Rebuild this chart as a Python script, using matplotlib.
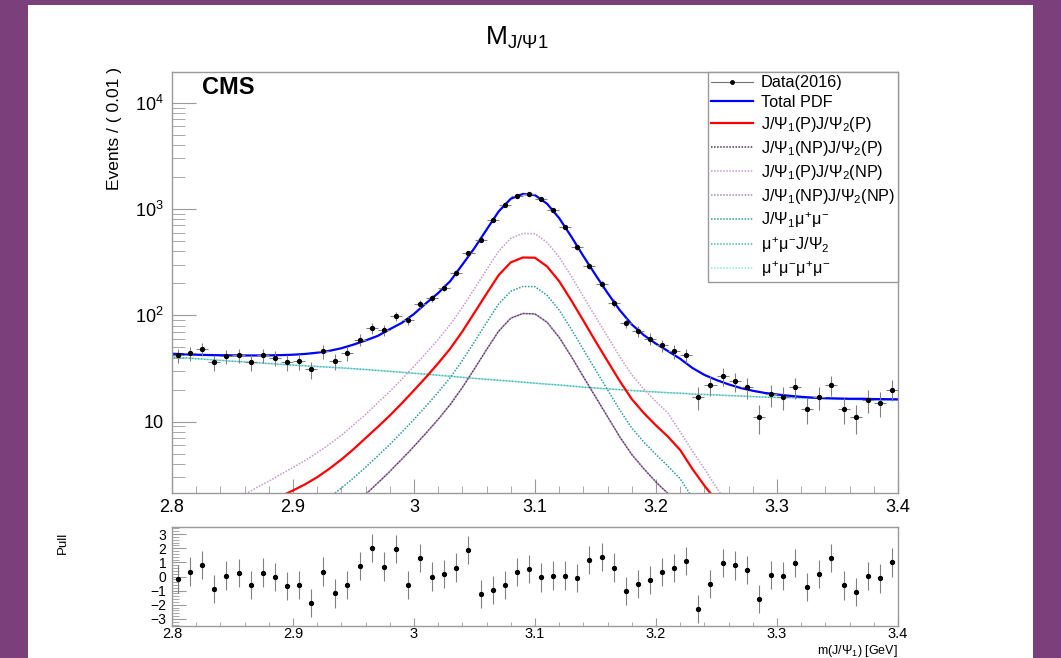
import numpy as np
import matplotlib
matplotlib.use("Agg")
import matplotlib.pyplot as plt
from matplotlib.lines import Line2D
from matplotlib.patches import Rectangle
from matplotlib.ticker import FixedLocator, FixedFormatter, LogLocator, NullFormatter, MultipleLocator

plt.rcParams['font.family'] = ['Liberation Sans', 'DejaVu Sans']
plt.rcParams['mathtext.fontset'] = 'custom'
plt.rcParams['mathtext.rm'] = 'Liberation Sans'
plt.rcParams['mathtext.it'] = 'Liberation Sans'
plt.rcParams['mathtext.sf'] = 'Liberation Sans'

# binned data, 60 bins of 0.01 GeV from 2.8 to 3.4
m_lo, m_hi, n_bins = 2.8, 3.4, 60
counts = [42, 44, 48, 36, 41, 42, 36, 42, 40, 36,
          37, 31, 46, 37, 44, 59, 76, 72, 98, 90,
          129, 144, 182, 251, 382, 510, 788, 1083, 1326, 1387,
          1236, 973, 681, 436, 292, 195, 131, 85, 71, 60,
          52, 46, 42, 17, 22, 27, 24, 21, 11, 18,
          17, 21, 13, 17, 22, 13, 11, 16, 15, 20]
pulls = [-0.18, 0.35, 0.82, -0.87, 0.07, 0.24, -0.61, 0.28, -0.04, -0.68,
         -0.61, -1.87, 0.35, -1.2, -0.58, 0.75, 2.0, 0.7, 1.95, -0.58,
         1.3, 0.0, 0.19, 0.63, 1.88, -1.24, -0.96, -0.58, 0.31, 0.54,
         -0.07, 0.07, 0.07, -0.11, 1.15, 1.37, 0.63, -1.0, -0.54, -0.23,
         0.31, 0.59, 1.1, -2.3, -0.51, 0.94, 0.78, 0.45, -1.59, 0.12,
         0.05, 0.94, -0.73, 0.19, 1.3, -0.63, -1.1, 0.05, -0.14, 1.0]

# fit curves read at 2.80, 2.81, ..., 3.40
total_pdf = [43.5, 43.0, 42.6, 42.3, 42.1, 42.0, 41.9, 41.9, 42.0, 42.2,
             42.6, 43.3, 44.5, 46.3, 49.0, 53, 58, 64, 74, 85,
             103, 130, 162, 210, 300, 430, 640, 950, 1250, 1385,
             1350, 1120, 820, 550, 360, 240, 162, 112, 82, 65,
             54, 46, 39, 32, 27.5, 24.6, 22.4, 20.7, 19.5, 18.6,
             18.0, 17.5, 17.1, 16.8, 16.6, 16.5, 16.4, 16.4, 16.3, 16.25, 16.2]
p_p = [0.79, 0.84, 0.92, 1.02, 1.15, 1.31, 1.44, 1.6, 1.78, 1.99,
       2.25, 2.57, 3.0, 3.6, 4.4, 5.5, 7.0, 8.9, 11.4, 14.9,
       19.7, 26.2, 35.4, 48.7, 70.5, 106, 160, 239, 315, 350,
       348, 288, 209, 138, 89, 57, 37, 24.1, 16.3, 12.0,
       9.2, 7.2, 5.4, 3.6, 2.5, 1.8, 1.26, 0.86, 0.6, 0.42,
       0.29, 0.18, 0.1, 0.08, 0.05, 0.04, 0.03, 0.03, 0.03, 0.03, 0.03]
np_p = [0.23, 0.25, 0.27, 0.3, 0.34, 0.39, 0.43, 0.48, 0.53, 0.59,
        0.67, 0.76, 0.9, 1.08, 1.32, 1.65, 2.07, 2.64, 3.4, 4.44,
        5.85, 7.8, 10.5, 14.5, 21.0, 31.4, 47.6, 71, 94, 104,
        103, 86, 62, 41, 26.4, 17.1, 11.1, 7.2, 4.9, 3.6,
        2.7, 2.1, 1.6, 1.08, 0.74, 0.53, 0.37, 0.26, 0.18, 0.12,
        0.09, 0.05, 0.03, 0.02, 0.02, 0.01, 0.01, 0.01, 0.01, 0.01, 0.01]
p_np = [0.75, 0.85, 0.97, 1.1, 1.5, 1.8, 2.05, 2.4, 2.75, 3.2,
        3.7, 4.3, 5.1, 6.1, 7.45, 9.3, 11.7, 15.0, 19.2, 25.1,
        33.1, 44.1, 59.5, 82, 119, 178, 269, 402, 530, 590,
        585, 484, 352, 233, 150, 97, 63, 41, 27.5, 20.2,
        15.4, 12.0, 8.0, 5.3, 3.6, 2.4, 1.6, 1.1, 0.8, 0.6,
        0.5, 0.3, 0.2, 0.1, 0.1, 0.1, 0.1, 0.1, 0.1, 0.1, 0.1]
np_np = np_p
jpsi_mumu = [0.42, 0.45, 0.49, 0.55, 0.62, 0.7, 0.77, 0.85, 0.95, 1.06,
             1.2, 1.37, 1.61, 1.93, 2.37, 2.95, 3.72, 4.75, 6.1, 7.97,
             10.5, 14.0, 18.9, 26.0, 37.7, 56.4, 85.4, 128, 168, 187,
             186, 154, 112, 74, 47.5, 30.7, 19.9, 12.9, 8.7, 6.4,
             4.9, 3.8, 2.9, 1.93, 1.33, 0.95, 0.67, 0.46, 0.32, 0.22,
             0.15, 0.1, 0.06, 0.04, 0.03, 0.02, 0.01, 0.01, 0.01, 0.01, 0.01]
mumu_jpsi = [40.5, 39.8, 39.1, 38.4, 37.7, 37.0, 36.4, 35.8, 35.2, 34.6,
             34.0, 33.5, 33.0, 32.5, 32.0, 31.5, 30.9, 30.3, 29.7, 29.1,
             28.5, 27.9, 27.3, 26.7, 26.1, 25.5, 25.0, 24.5, 24.0, 23.5,
             23.0, 22.5, 22.1, 21.6, 21.1, 20.7, 20.3, 20.0, 19.6, 19.3,
             19.0, 18.7, 18.5, 18.2, 18.0, 17.8, 17.6, 17.4, 17.2, 17.0,
             16.9, 16.8, 16.7, 16.6, 16.5, 16.3, 16.2, 16.1, 16.0, 16.0, 16.0]
mumu_mumu = mumu_jpsi

labels = ['Data(2016)', 'Total PDF',
          r'J/$\Psi_1$(P)J/$\Psi_2$(P)', r'J/$\Psi_1$(NP)J/$\Psi_2$(P)',
          r'J/$\Psi_1$(P)J/$\Psi_2$(NP)', r'J/$\Psi_1$(NP)J/$\Psi_2$(NP)',
          r'J/$\Psi_1\mu^{+}\mu^{-}$', r'$\mu^{+}\mu^{-}$J/$\Psi_2$',
          r'$\mu^{+}\mu^{-}\mu^{+}\mu^{-}$']

edges = np.linspace(m_lo, m_hi, n_bins + 1)
centers = 0.5 * (edges[1:] + edges[:-1])
grid = np.linspace(m_lo, m_hi, len(total_pdf))
counts = np.array(counts, dtype=float)

W, H = 1061, 658
fig = plt.figure(figsize=(W / 100, H / 100), dpi=100)
fig.patch.set_facecolor('#7b3f7b')
fig.patches.append(Rectangle((28 / W, 0), 1005 / W, 653 / H, transform=fig.transFigure,
                             facecolor='white', edgecolor='none', zorder=-10))

ax = fig.add_axes([172 / W, 1 - 493 / H, 726 / W, 421 / H])
axp = fig.add_axes([172 / W, 1 - 626 / H, 726 / W, 99 / H])

dot = (0, (1, 1))
c_np_p = '#553355'
c_p_np = '#c898c8'
c_np_np = '#a883c0'
c_jm = '#2f9a9a'
c_mj = '#45b5b5'
c_mm = '#8fe3e3'
ax.plot(grid, mumu_mumu, color=c_mm, ls=dot, lw=1.1)
ax.plot(grid, mumu_jpsi, color=c_mj, ls=(1, (1, 1)), lw=1.1)
ax.plot(grid, jpsi_mumu, color=c_jm, ls=dot, lw=1.1)
ax.plot(grid, np_np, color=c_np_np, ls=dot, lw=1.1)
ax.plot(grid, np_p, color=c_np_p, ls=(1, (1, 1)), lw=1.1)
ax.plot(grid, p_np, color=c_p_np, ls=dot, lw=1.1)
ax.plot(grid, p_p, color='red', lw=1.6)
ax.plot(grid, total_pdf, color='blue', lw=1.6)
ax.errorbar(centers, counts, xerr=0.005, yerr=np.sqrt(counts), fmt='o', ms=2.8,
            color='black', ecolor='#808080', elinewidth=0.8, capsize=0, zorder=5)

ax.set_yscale('log')
ax.set_xlim(m_lo, m_hi)
ax.set_ylim(2.13, 19450)
ax.yaxis.set_major_locator(FixedLocator([10, 100, 1000, 10000]))
ax.yaxis.set_major_formatter(FixedFormatter(['10', r'$10^{2}$', r'$10^{3}$', r'$10^{4}$']))
ax.yaxis.set_minor_locator(LogLocator(base=10, subs=range(2, 10)))
ax.yaxis.set_minor_formatter(NullFormatter())
ax.set_xticks([2.8, 2.9, 3.0, 3.1, 3.2, 3.3, 3.4])
ax.set_xticklabels(['2.8', '2.9', '3', '3.1', '3.2', '3.3', '3.4'])
ax.xaxis.set_minor_locator(MultipleLocator(0.02))

frame = '#9a9a9a'
for a in (ax, axp):
    for s in a.spines.values():
        s.set_color(frame)
        s.set_linewidth(1)
    a.tick_params(which='both', direction='in', color=frame, top=False, right=False)
ax.tick_params(axis='y', which='major', length=17, labelsize=13, pad=6)
ax.tick_params(axis='y', which='minor', length=9)
ax.tick_params(axis='x', which='major', length=10, labelsize=13, pad=4)
ax.tick_params(axis='x', which='minor', length=5)

ax.text(0.041, 0.962, 'CMS', transform=ax.transAxes, fontsize=17, fontweight='bold',
        ha='left', va='center')

handles = [Line2D([], [], color='#707070', lw=0.8, marker='o', ms=2.5, mfc='black', mec='black'),
           Line2D([], [], color='blue', lw=1.6),
           Line2D([], [], color='red', lw=1.6),
           Line2D([], [], color=c_np_p, ls=dot, lw=1.1),
           Line2D([], [], color=c_p_np, ls=dot, lw=1.1),
           Line2D([], [], color=c_np_np, ls=dot, lw=1.1),
           Line2D([], [], color=c_jm, ls=dot, lw=1.1),
           Line2D([], [], color=c_mj, ls=dot, lw=1.1),
           Line2D([], [], color=c_mm, ls=dot, lw=1.1)]
leg = ax.legend(handles, labels, loc='upper right', bbox_to_anchor=(1, 1), borderaxespad=0,
                fontsize=11.7, frameon=True, fancybox=False, edgecolor=frame, framealpha=1,
                handlelength=2.6, handletextpad=0.45, labelspacing=0.3, borderpad=0.2)
leg.get_frame().set_linewidth(1)

# pull panel
axp.errorbar(centers, pulls, yerr=1, fmt='o', ms=2.8, color='black', ecolor='#808080',
             elinewidth=0.8, capsize=0)
axp.set_xlim(m_lo, m_hi)
axp.set_ylim(-3.5, 3.5)
axp.set_yticks([-3, -2, -1, 0, 1, 2, 3])
axp.set_yticklabels(['\u22123', '\u22122', '\u22121', '0', '1', '2', '3'])
axp.yaxis.set_minor_locator(MultipleLocator(0.2))
axp.set_xticks([2.8, 2.9, 3.0, 3.1, 3.2, 3.3, 3.4])
axp.set_xticklabels(['2.8', '2.9', '3', '3.1', '3.2', '3.3', '3.4'])
axp.xaxis.set_minor_locator(MultipleLocator(0.02))
axp.tick_params(axis='y', which='major', length=10, labelsize=10, pad=4)
axp.tick_params(axis='y', which='minor', length=5)
axp.tick_params(axis='x', which='major', length=6, labelsize=10.5, pad=1)
axp.tick_params(axis='x', which='minor', length=3)

fig.text(517 / W, 1 - 38 / H, r'M$_{\mathrm{J/\Psi 1}}$', fontsize=19, ha='center', va='center')
fig.text(115 / W, 1 - 67 / H, 'Events / ( 0.01 )', fontsize=12.5, rotation=90, ha='center', va='top')
fig.text(63 / W, 1 - 532 / H, 'Pull', fontsize=9.5, rotation=90, ha='center', va='top')
fig.text(898 / W, 1 - 651 / H, r'm(J/$\Psi_1$) [GeV]', fontsize=9, ha='right', va='center')

fig.savefig('out.png', dpi=100, facecolor=fig.get_facecolor())
